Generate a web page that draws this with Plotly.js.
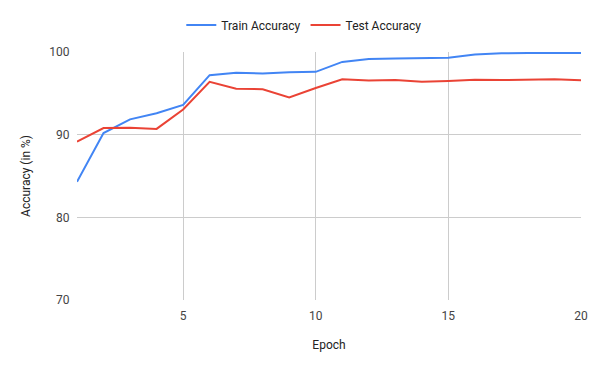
<!DOCTYPE html>
<html>
<head>
<meta charset="utf-8">
<script src="https://cdn.plot.ly/plotly-3.0.1.min.js"></script>
<style>html,body{margin:0;padding:0;background:#fff;}#chart{width:600px;height:371px;}</style>
</head>
<body>
<div id="chart"></div>
<script>
const epochs = [1,2,3,4,5,6,7,8,9,10,11,12,13,14,15,16,17,18,19,20];
const trainAccuracy = [84.3,90.2,91.85,92.6,93.6,97.2,97.5,97.4,97.55,97.6,98.8,99.15,99.2,99.25,99.3,99.7,99.84,99.87,99.85,99.88];
const testAccuracy = [89.15,90.8,90.85,90.7,93.05,96.4,95.55,95.5,94.5,95.65,96.7,96.55,96.6,96.4,96.5,96.65,96.6,96.68,96.7,96.58];
const seriesNames = ["Train Accuracy","Test Accuracy"];
const xTicks = [5,10,15,20];
const yTicks = [70,80,90,100];

const traces = [
  {x: epochs, y: trainAccuracy, name: seriesNames[0], type: 'scatter', mode: 'lines',
   line: {color: '#4285F4', width: 2}},
  {x: epochs, y: testAccuracy, name: seriesNames[1], type: 'scatter', mode: 'lines',
   line: {color: '#EA4335', width: 2}}
];

const layout = {
  width: 600, height: 371,
  margin: {l: 77, r: 19, t: 52, b: 71, autoexpand: false},
  paper_bgcolor: '#fff', plot_bgcolor: '#fff',
  font: {family: 'Roboto, Arial, sans-serif', size: 12, color: '#222'},
  showlegend: true,
  legend: {orientation: 'h', x: 0.45, xanchor: 'center', y: 1.109, yanchor: 'middle',
           font: {size: 12, color: '#222'}, itemwidth: 30},
  xaxis: {range: [1, 20], tickvals: xTicks, ticktext: xTicks.map(String),
          showgrid: true, gridcolor: '#cccccc', gridwidth: 1, zeroline: false,
          showline: false, ticks: 'outside', ticklen: 5, tickcolor: 'rgba(0,0,0,0)',
          tickfont: {size: 12, color: '#444'},
          title: {text: 'Epoch', font: {size: 12, color: '#222'}, standoff: 18}},
  yaxis: {range: [70, 100], tickvals: yTicks, ticktext: yTicks.map(String),
          showgrid: true, gridcolor: '#cccccc', gridwidth: 1, zeroline: false,
          showline: false, ticks: 'outside', ticklen: 4, tickcolor: 'rgba(0,0,0,0)',
          tickfont: {size: 12, color: '#444'},
          title: {text: 'Accuracy (in %)', font: {size: 12, color: '#222'}, standoff: 16}}
};

Plotly.newPlot('chart', traces, layout, {displayModeBar: false, staticPlot: true});
</script>
</body>
</html>
